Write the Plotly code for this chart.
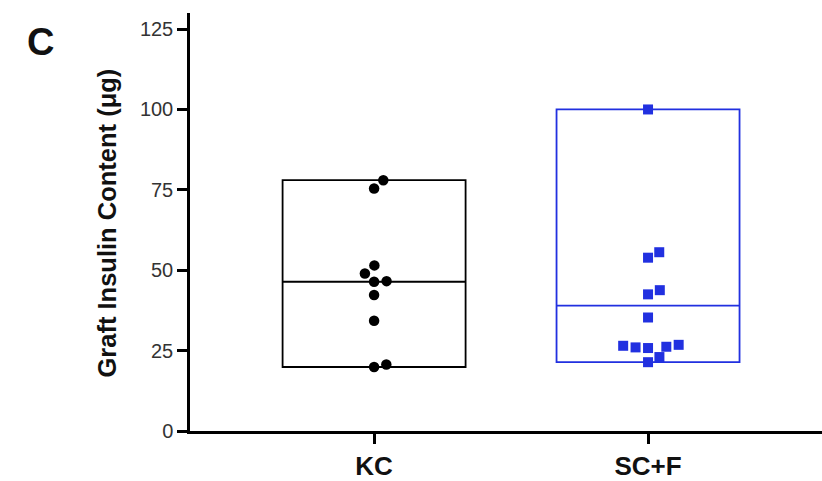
import numpy as np
import plotly.graph_objects as go

# ---- data ----
categories = ["KC", "SC+F"]
kc_values = [78.0, 75.4, 51.5, 49.0, 46.6, 46.4, 42.3, 34.3, 19.9, 20.7]
scf_values = [100.0, 55.6, 53.9, 43.8, 42.5, 35.3, 26.5, 26.2, 25.8, 26.0, 26.8, 23.0, 21.4]
y_ticks = [0, 25, 50, 75, 100, 125]
y_title = "Graft Insulin Content (μg)"
panel_label = "C"

# ---- layout geometry ----
W, H = 822, 481
M_L, M_R, M_T, M_B = 190, 0, 13, 45
X_RANGE = [-0.672, 1.635]
Y_RANGE = [0, 130]
plot_w = W - M_L - M_R
plot_h = H - M_T - M_B
px_x = plot_w / (X_RANGE[1] - X_RANGE[0])
px_y = plot_h / (Y_RANGE[1] - Y_RANGE[0])


def beeswarm(values, spacing_px):
    """Return x offsets (data units) so markers don't overlap."""
    order = np.argsort(values)
    placed = []  # (x_px, y_px)
    offs = np.zeros(len(values))
    for i in order:
        y = values[i] * px_y
        cands = [0.0]
        near = []
        for (xj, yj) in placed:
            dy = abs(y - yj)
            if dy < spacing_px:
                w = np.sqrt(spacing_px ** 2 - dy ** 2)
                near.append((xj - w, xj + w))
                cands += [xj - w, xj + w]
        cands = sorted(set(cands), key=lambda c: (abs(c), -c))
        chosen = 0.0
        for c in cands:
            if all(not (lo + 1e-6 < c < hi - 1e-6) for lo, hi in near):
                chosen = c
                break
        placed.append((chosen, y))
        offs[i] = chosen / px_x
    return offs


black = "#000000"
blue = "#2130e0"
groups = [
    (kc_values, black, "circle", 10.5),
    (scf_values, blue, "square", 10),
]

fig = go.Figure()
for gi, (vals, col, sym, msize) in enumerate(groups):
    arr = np.array(vals)
    vmin, vmax, vmean = arr.min(), arr.max(), arr.mean()
    fig.add_trace(go.Box(
        x=[gi], q1=[vmin], median=[vmean], q3=[vmax],
        lowerfence=[vmin], upperfence=[vmax],
        width=0.668, whiskerwidth=0,
        line=dict(color=col, width=1.8),
        fillcolor="rgba(0,0,0,0)",
        boxpoints=False, hoverinfo="skip", showlegend=False,
    ))
    offs = beeswarm(arr, 12.5)
    fig.add_trace(go.Scatter(
        x=gi + offs, y=arr, mode="markers",
        marker=dict(symbol=sym, size=msize, color=col, line=dict(width=0)),
        showlegend=False,
    ))

fig.update_layout(
    width=W, height=H,
    margin=dict(l=M_L, r=M_R, t=M_T, b=M_B, pad=0),
    paper_bgcolor="white", plot_bgcolor="white",
    font=dict(family="Liberation Sans, Arial, sans-serif", color="#222"),
    xaxis=dict(
        range=X_RANGE, tickvals=list(range(len(categories))), ticktext=categories,
        showgrid=False, zeroline=False,
        showline=True, linecolor="black", linewidth=2.5,
        ticks="outside", ticklen=10, tickwidth=2.5, tickcolor="black",
        tickfont=dict(size=26, weight="bold", color="#111"),
    ),
    yaxis=dict(
        range=Y_RANGE, tickvals=y_ticks,
        showgrid=False, zeroline=False,
        showline=True, linecolor="black", linewidth=2.5,
        ticks="outside", ticklen=10, tickwidth=2.5, tickcolor="black",
        tickfont=dict(size=20, color="#333"),
    ),
    annotations=[
        dict(text=y_title, textangle=-90, xref="paper", yref="paper",
             x=(107 - M_L) / plot_w, y=(H - M_B - 226) / plot_h,
             xanchor="center", yanchor="middle", showarrow=False,
             font=dict(size=25.5, weight="bold", color="#111")),
        dict(text=panel_label, xref="paper", yref="paper",
             x=(40 - M_L) / plot_w, y=(H - M_B - 42) / plot_h,
             xanchor="center", yanchor="middle", showarrow=False,
             font=dict(size=38, weight="bold", color="#111")),
    ],
)

fig.write_html(
    "out.html",
    config={"displayModeBar": False},
    post_script="document.body.style.margin='0';document.body.style.overflow='hidden';",
)
